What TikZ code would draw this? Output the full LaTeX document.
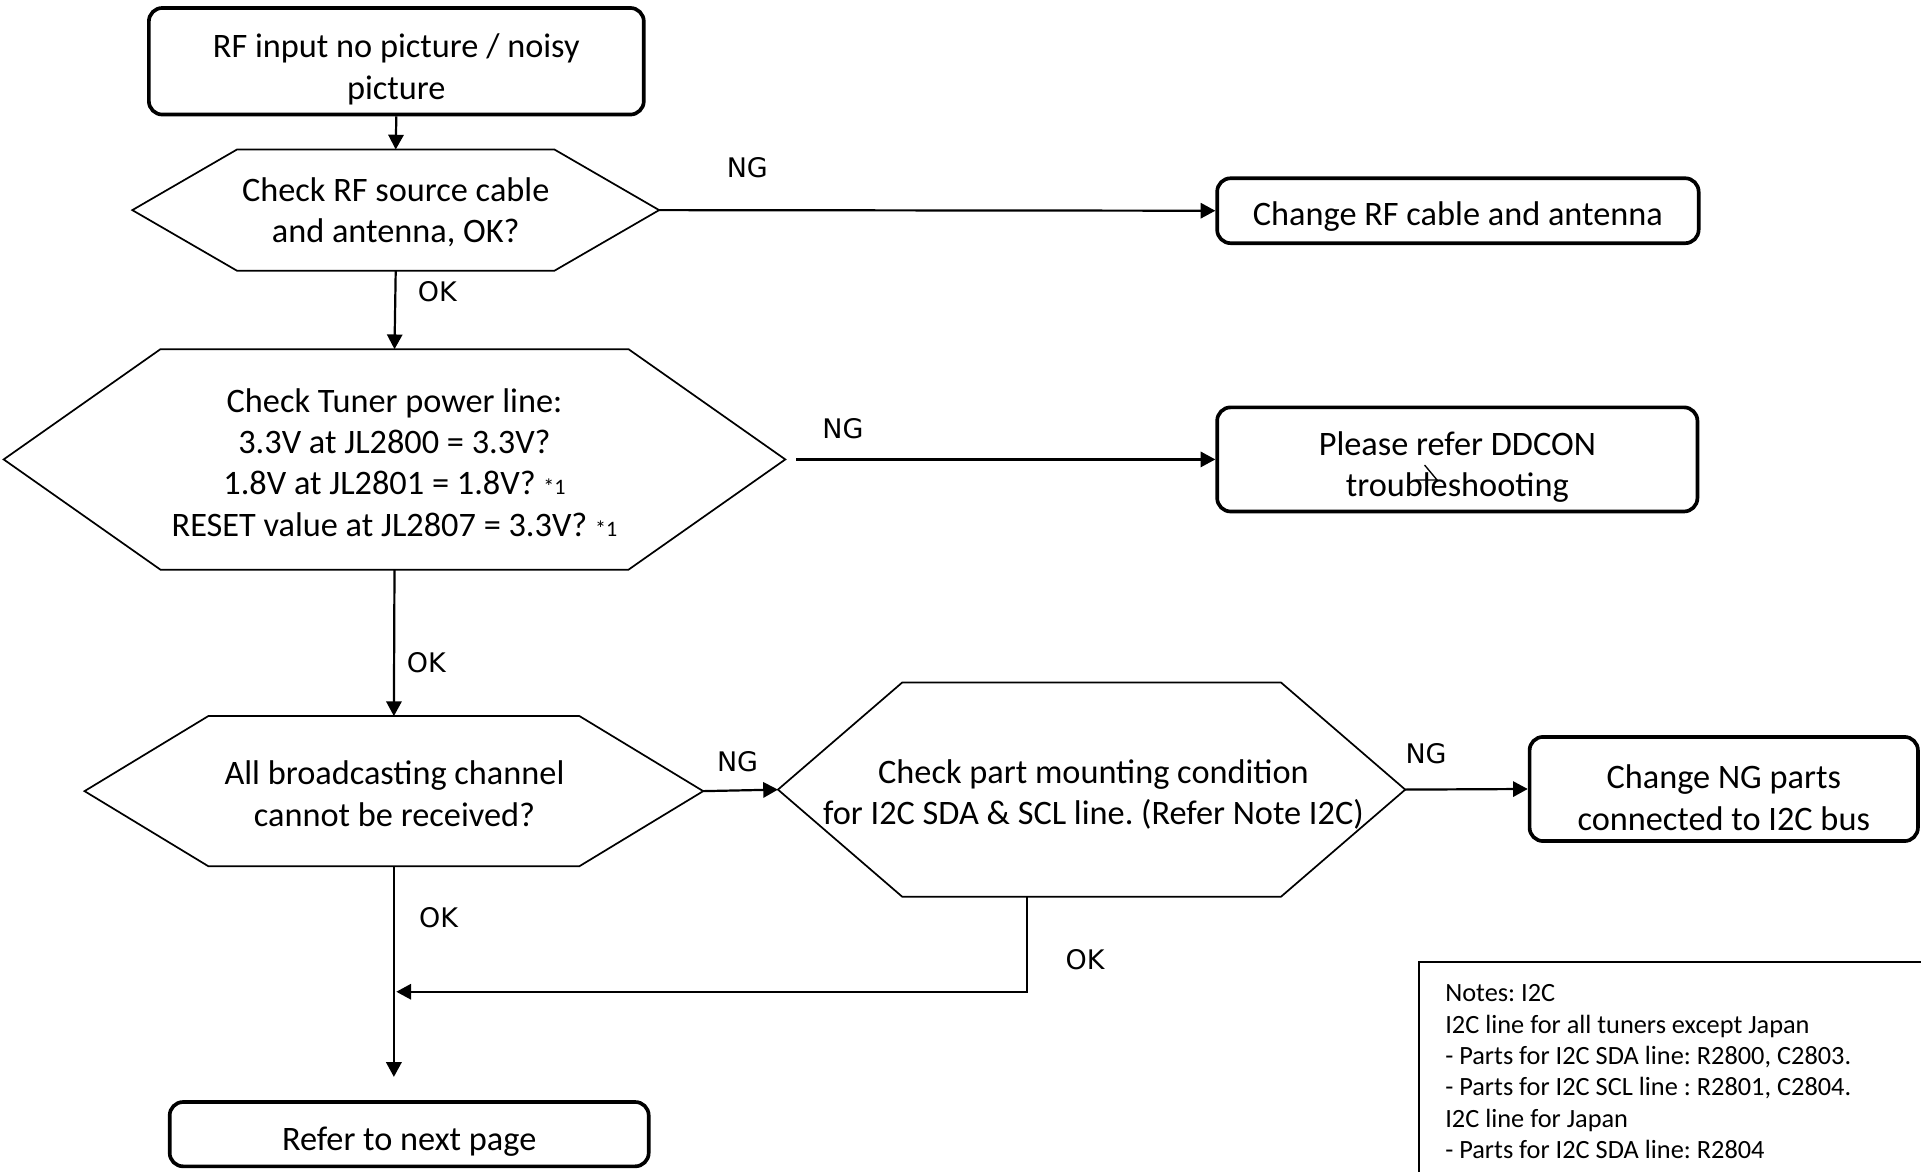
\documentclass[tikz,border=0pt]{standalone}
\usepackage{fontspec}
\setmainfont{Carlito}
\newfontfamily\labelfont{DejaVu Sans}
\usetikzlibrary{arrows.meta}
\frenchspacing

\tikzset{
  maintext/.style={font=\fontsize{28pt}{33.8pt}\selectfont, align=center, inner sep=0pt},
  endbox/.style={draw, line width=3pt, rounded corners=11pt, inner sep=0pt},
  hexline/.style={draw, line width=1.4pt, line join=miter},
  arr/.style={line width=1.8pt, -{Triangle[length=12pt,width=12.5pt]}},
  flowlabel/.style={font=\labelfont\fontsize{22pt}{26pt}\selectfont, inner sep=0pt},
  notetext/.style={font=\fontsize{21.5pt}{25.6pt}\selectfont, align=left, inner sep=0pt},
}

% hexagonal decision: name, centre x, centre y, half width to tip, half width of flat side, half height
\newcommand\hexbox[6]{%
  \draw[hexline] (#2-#4,#3) -- (#2-#5,#3-#6) -- (#2+#5,#3-#6) -- (#2+#4,#3)
    -- (#2+#5,#3+#6) -- (#2-#5,#3+#6) -- cycle;
  \coordinate (#1-w) at (#2-#4,#3);
  \coordinate (#1-e) at (#2+#4,#3);
  \coordinate (#1-n) at (#2,#3-#6);
  \coordinate (#1-s) at (#2,#3+#6);
}

\newcommand\smallmark{{\fontsize{18pt}{20pt}\selectfont *1}}

\begin{document}
\begin{tikzpicture}[x=1pt,y=-1pt]
\useasboundingbox (0,0) rectangle (1568,956);
\clip (0,0) rectangle (1568,956);
\fill[white] (0,0) rectangle (1568,956);

% terminal boxes, with their captions set a little below centre
\node[endbox, minimum width=404pt, minimum height=87pt] (start) at (323.5,50) {};
\node[maintext] (starttext) at ([yshift=-6.5pt]start.center)
  {RF input no picture / noisy\\picture};
\node[endbox, minimum width=393pt, minimum height=53pt] (rfcable) at (1190,172) {};
\node[maintext] (rfcabletext) at ([yshift=-5pt]rfcable.center)
  {Change RF cable and antenna};
\node[endbox, minimum width=392pt, minimum height=85pt] (ddcon) at (1189.5,375) {};
\node[maintext] (ddcontext) at ([yshift=-6pt]ddcon.center)
  {Please refer DDCON\\troubleshooting};
\node[endbox, minimum width=317pt, minimum height=85pt] (ngparts) at (1407,644) {};
\node[maintext] (ngpartstext) at ([yshift=-7pt]ngparts.center)
  {Change NG parts\\connected to I2C bus};
\node[endbox, minimum width=391pt, minimum height=52.5pt] (next) at (334,925.75) {};
\node[maintext] (nexttext) at ([yshift=-6.5pt]next.center)
  {Refer to next page};

% stray pen stroke inside the DDCON box
\draw[line width=1.1pt] (1162.8,379.6) -- (1173,391.8) -- (1155.6,391.8);

% decisions
\hexbox{h1}{323}{171.5}{215}{129.5}{49.5}
\node[maintext] (q1) at (323,173.5) {Check RF source cable\\and antenna, OK?};

\hexbox{h2}{322}{375}{319}{191}{90}
\node[maintext] (q2) at (322,377.5)
  {Check Tuner power line:\\3.3V at JL2800 = 3.3V?\\1.8V at JL2801 = 1.8V? \smallmark\\RESET value at JL2807 = 3.3V? \smallmark};

\hexbox{h3}{321.5}{645.75}{252.5}{151.5}{61.25}
\node[maintext] (q3) at (322,648) {All broadcasting channel\\cannot be received?};

\hexbox{h4}{891}{644.5}{256}{154.5}{87.5}
\node[maintext] (q4) at (892.5,648.5)
  {Check part mounting condition\\for I2C SDA \& SCL line. (Refer Note I2C)};

% notes
\draw[line width=1.3pt] (1158,785) rectangle (1620,1000);
\node[notetext, anchor=north west] (notes) at (1179.5,803.5)
  {Notes: I2C\\
   I2C line for all tuners except Japan\\
   - Parts for I2C SDA line: R2800, C2803.\\
   - Parts for I2C SCL line : R2801, C2804.\\
   I2C line for Japan\\
   - Parts for I2C SDA line: R2804};

% connectors
\coordinate (endpoint) at (321.5,879);
\coordinate (mergetop) at (838,732);
\coordinate (join) at (323.5,809.5);

\draw[arr] (start.south) -- (h1-n);
\draw[arr] (h1-e) -- (rfcable.west);
\draw[arr] (h1-s) -- (h2-n);
\draw[arr, shorten <=9pt] (h2-e) -- (ddcon.west);
\draw[arr] (h2-s) -- (h3-n);
\draw[arr] (h3-e) -- (h4-w);
\draw[arr] (h4-e) -- (ngparts.west);
\draw[arr] (h3-s) -- (endpoint);
\draw[arr] (mergetop) |- (join);

% branch labels
\node[flowlabel] (ng1) at (610,136.5) {NG};
\node[flowlabel] (ok1) at (357,238) {OK};
\node[flowlabel] (ng2) at (688,349.5) {NG};
\node[flowlabel] (ok2) at (348,541) {OK};
\node[flowlabel] (ng3) at (602,621.7) {NG};
\node[flowlabel] (ng4) at (1164,615) {NG};
\node[flowlabel] (ok3) at (358,749) {OK};
\node[flowlabel] (ok4) at (885.7,783) {OK};
\end{tikzpicture}
\end{document}
